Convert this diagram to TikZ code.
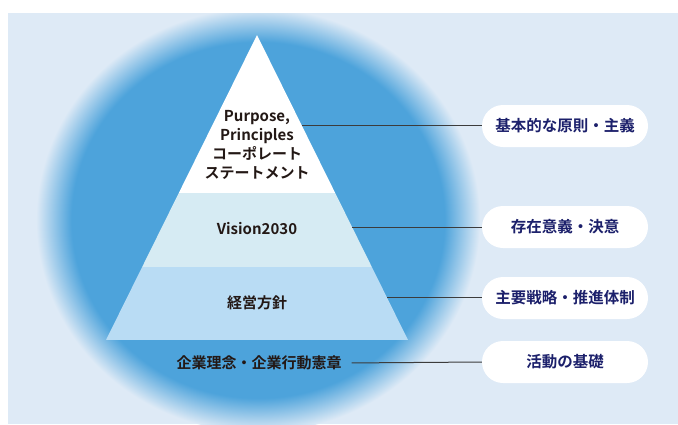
\documentclass[tikz,border=0pt]{standalone}
\usepackage{fontspec}
\setmainfont{Noto Sans CJK JP}[BoldFont={* Bold}]
\usetikzlibrary{calc}
\definecolor{bglight}{HTML}{DEEAF6}
\definecolor{ellblue}{HTML}{4DA3DB}
\definecolor{bandcyan}{HTML}{D6EBF3}
\definecolor{bandblue}{HTML}{B9DCF4}
\definecolor{navytext}{HTML}{1C206B}
\definecolor{inktext}{HTML}{231815}
\definecolor{leader}{HTML}{3C3C3C}
\pgfdeclareradialshading{halo}{\pgfpoint{0bp}{0bp}}{color(0bp)=(ellblue); color(21bp)=(ellblue); color(25bp)=(bglight); color(50bp)=(bglight)}
\tikzstyle{tierlabel} = [text=inktext, font=\fontsize{15}{19}\selectfont\bfseries,
    align=center, inner sep=2pt]
\tikzstyle{pill} = [fill=white, rectangle, rounded corners=21pt, minimum width=166pt,
    minimum height=42pt, text=navytext, font=\fontsize{15.5}{19}\selectfont\bfseries]
\tikzstyle{leaderline} = [draw=leader, line width=1pt]

\begin{document}
\begin{tikzpicture}[x=1pt, y=-1pt]
    \fill[white] (0,0) rectangle (678,424);
    \useasboundingbox (0,0) rectangle (678,424);
    \fill[bglight] (8,13) rectangle (678,424);
    \begin{scope}
        \clip (8,13) rectangle (678,424);
        \shade[shading=halo] (258,220) ellipse [x radius=222, y radius=212];
    \end{scope}
    \coordinate (apex) at (257,35);
    \coordinate (bl) at (106,340);
    \coordinate (br) at (408,340);
    \begin{scope}
        \clip (apex) -- (bl) -- (br) -- cycle;
        \fill[white] (100,30) rectangle (420,193);
        \fill[bandcyan] (100,193) rectangle (420,267);
        \fill[bandblue] (100,267) rectangle (420,340);
    \end{scope}
    \node[tierlabel] (purpose) at (257,145) {Purpose,\\Principles\\コーポレート\\ステートメント};
    \node[tierlabel] (vision) at (257,229) {Vision2030};
    \node[tierlabel] (policy) at (257,303) {経営方針};
    \node[tierlabel] (creed) at (259,363) {企業理念・企業行動憲章};
    \node[pill] (basic) at (565,126) {基本的な原則・主義};
    \node[pill] (meaning) at (565,227) {存在意義・決意};
    \node[pill] (strategy) at (565,298) {主要戦略・推進体制};
    \node[pill] (base) at (565,362) {活動の基礎};
    \coordinate (edge1) at ($(apex)!0.298!(br)$);
    \coordinate (edge2) at ($(apex)!0.630!(br)$);
    \coordinate (edge3) at ($(apex)!0.862!(br)$);
    \draw[leaderline] (edge1) -- (edge1 -| basic.west);
    \draw[leaderline] (edge2) -- (edge2 -| meaning.west);
    \draw[leaderline] (edge3) -- (edge3 -| strategy.west);
    \draw[leaderline, shorten <=8pt] (creed.east) -- (base.west);
\end{tikzpicture}
\end{document}
